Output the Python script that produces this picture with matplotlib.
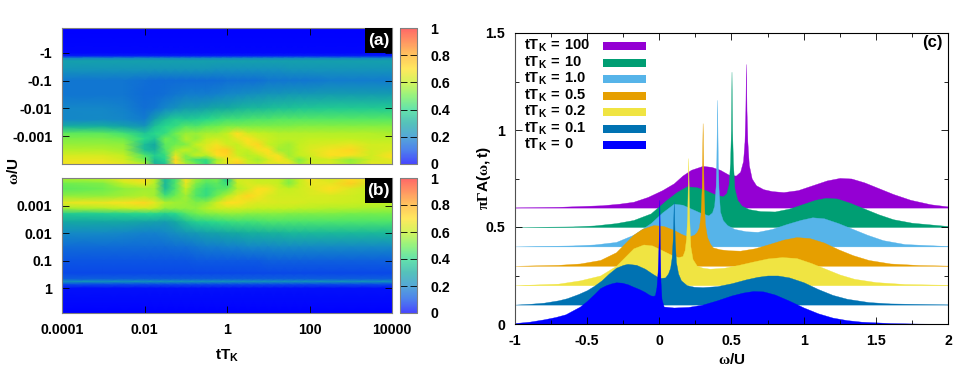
"""Spectral function after a quench: time/frequency maps and a waterfall of cuts."""

import matplotlib

matplotlib.use("Agg")
import matplotlib.pyplot as plt
from matplotlib.cm import ScalarMappable
from matplotlib.colors import LinearSegmentedColormap, Normalize
from matplotlib.patches import Rectangle
import numpy as np

plt.rcParams["font.family"] = ["Liberation Sans", "DejaVu Sans"]
plt.rcParams["font.weight"] = "bold"
plt.rcParams["mathtext.fontset"] = "custom"
plt.rcParams["mathtext.rm"] = "Liberation Serif"
plt.rcParams["mathtext.bf"] = "Liberation Sans:bold"
plt.rcParams["mathtext.it"] = "Liberation Sans:bold"

WIDTH, HEIGHT = 975, 367
FONT = 10.2

# log10(t T_K) of the map columns
log_t = [-4, -3, -2.5, -2, -1.75, -1.5, -1.25, -1, -0.75, -0.5, -0.25, 0,
         0.25, 0.5, 0.75, 1, 1.25, 1.5, 1.75, 2, 2.5, 3, 3.5, 4]

# log10|w/U| of the rows, map (a): negative frequencies
log_w_a = [0.9, 0, -0.12, -0.2, -0.3, -0.6, -1, -1.5, -2, -2.4, -2.65, -2.9,
           -3.1, -3.3, -3.5, -3.7, -3.85, -4]
map_a = [
    [0.00] * 24,
    [0.01] * 24,
    [0.04] * 24,
    [0.20] * 24,
    [0.27] * 24,
    [0.24, 0.24, 0.24, 0.24, 0.24, 0.24, 0.24, 0.24, 0.24, 0.24, 0.23, 0.23,
     0.23, 0.23, 0.23, 0.23, 0.23, 0.24, 0.24, 0.24, 0.24, 0.24, 0.24, 0.24],
    [0.17, 0.17, 0.17, 0.16, 0.15, 0.15, 0.15, 0.15, 0.15, 0.15, 0.15, 0.16,
     0.16, 0.16, 0.16, 0.17, 0.17, 0.17, 0.17, 0.17, 0.18, 0.18, 0.18, 0.18],
    [0.17, 0.17, 0.17, 0.15, 0.15, 0.16, 0.17, 0.18, 0.18, 0.18, 0.19, 0.20,
     0.21, 0.22, 0.23, 0.24, 0.24, 0.25, 0.25, 0.25, 0.26, 0.26, 0.26, 0.26],
    [0.20, 0.20, 0.19, 0.16, 0.17, 0.20, 0.23, 0.26, 0.26, 0.28, 0.30, 0.30,
     0.32, 0.33, 0.33, 0.34, 0.35, 0.35, 0.36, 0.36, 0.37, 0.37, 0.37, 0.37],
    [0.20, 0.21, 0.20, 0.18, 0.27, 0.34, 0.38, 0.37, 0.38, 0.40, 0.42, 0.44,
     0.44, 0.45, 0.46, 0.46, 0.47, 0.47, 0.47, 0.47, 0.47, 0.47, 0.47, 0.47],
    [0.31, 0.31, 0.28, 0.24, 0.35, 0.40, 0.42, 0.47, 0.46, 0.49, 0.50, 0.52,
     0.52, 0.52, 0.52, 0.52, 0.52, 0.52, 0.53, 0.53, 0.53, 0.53, 0.53, 0.53],
    [0.48, 0.48, 0.44, 0.36, 0.40, 0.42, 0.50, 0.55, 0.55, 0.57, 0.57, 0.60,
     0.70, 0.62, 0.60, 0.59, 0.58, 0.58, 0.58, 0.58, 0.58, 0.58, 0.58, 0.57],
    [0.52, 0.52, 0.50, 0.40, 0.36, 0.50, 0.48, 0.58, 0.54, 0.60, 0.62, 0.60,
     0.66, 0.70, 0.64, 0.61, 0.59, 0.59, 0.59, 0.60, 0.60, 0.60, 0.59, 0.59],
    [0.55, 0.55, 0.54, 0.34, 0.30, 0.48, 0.50, 0.52, 0.60, 0.64, 0.68, 0.62,
     0.60, 0.68, 0.72, 0.60, 0.58, 0.56, 0.60, 0.62, 0.64, 0.66, 0.62, 0.62],
    [0.58, 0.58, 0.56, 0.34, 0.32, 0.46, 0.56, 0.60, 0.56, 0.66, 0.72, 0.74,
     0.60, 0.60, 0.68, 0.70, 0.56, 0.56, 0.60, 0.64, 0.68, 0.72, 0.62, 0.64],
    [0.63, 0.63, 0.60, 0.46, 0.38, 0.42, 0.66, 0.52, 0.60, 0.58, 0.70, 0.72,
     0.62, 0.58, 0.60, 0.68, 0.68, 0.56, 0.60, 0.62, 0.70, 0.68, 0.62, 0.70],
    [0.66, 0.66, 0.62, 0.50, 0.34, 0.40, 0.72, 0.52, 0.44, 0.42, 0.56, 0.66,
     0.70, 0.60, 0.56, 0.62, 0.70, 0.62, 0.52, 0.60, 0.62, 0.54, 0.62, 0.66],
    [0.68, 0.68, 0.66, 0.58, 0.32, 0.36, 0.70, 0.58, 0.50, 0.40, 0.60, 0.66,
     0.74, 0.62, 0.60, 0.66, 0.64, 0.68, 0.56, 0.62, 0.64, 0.56, 0.66, 0.64],
]

# log10|w/U| of the rows, map (b): positive frequencies
log_w_b = [-4, -3.8, -3.6, -3.35, -3.1, -2.9, -2.7, -2.4, -2, -1.5, -1, -0.55,
           -0.33, -0.25, -0.15, 0, 0.9]
map_b = [
    [0.58, 0.60, 0.68, 0.72, 0.60, 0.34, 0.44, 0.68, 0.56, 0.50, 0.52, 0.36,
     0.64, 0.62, 0.60, 0.60, 0.60, 0.54, 0.60, 0.68, 0.62, 0.70, 0.66, 0.62],
    [0.50, 0.52, 0.60, 0.66, 0.58, 0.33, 0.46, 0.66, 0.52, 0.46, 0.48, 0.42,
     0.60, 0.64, 0.62, 0.62, 0.60, 0.52, 0.60, 0.66, 0.66, 0.74, 0.62, 0.60],
    [0.48, 0.50, 0.54, 0.56, 0.56, 0.34, 0.46, 0.60, 0.48, 0.42, 0.46, 0.48,
     0.58, 0.62, 0.70, 0.68, 0.62, 0.60, 0.62, 0.64, 0.70, 0.64, 0.60, 0.58],
    [0.54, 0.54, 0.56, 0.58, 0.56, 0.44, 0.50, 0.56, 0.46, 0.42, 0.50, 0.58,
     0.66, 0.72, 0.68, 0.64, 0.62, 0.62, 0.62, 0.63, 0.63, 0.62, 0.60, 0.60],
    [0.66, 0.67, 0.69, 0.72, 0.66, 0.58, 0.56, 0.55, 0.52, 0.54, 0.62, 0.70,
     0.70, 0.66, 0.64, 0.64, 0.63, 0.63, 0.63, 0.62, 0.62, 0.61, 0.60, 0.60],
    [0.56, 0.58, 0.60, 0.62, 0.60, 0.54, 0.54, 0.54, 0.54, 0.58, 0.61, 0.62,
     0.62, 0.61, 0.60, 0.60, 0.60, 0.60, 0.59, 0.59, 0.58, 0.58, 0.57, 0.56],
    [0.37, 0.38, 0.39, 0.40, 0.40, 0.38, 0.40, 0.46, 0.50, 0.52, 0.53, 0.54,
     0.54, 0.53, 0.53, 0.53, 0.53, 0.52, 0.52, 0.52, 0.52, 0.51, 0.51, 0.51],
    [0.29, 0.29, 0.29, 0.28, 0.27, 0.26, 0.29, 0.34, 0.38, 0.39, 0.41, 0.42,
     0.43, 0.43, 0.44, 0.45, 0.45, 0.45, 0.45, 0.45, 0.45, 0.45, 0.45, 0.45],
    [0.21, 0.21, 0.20, 0.19, 0.19, 0.20, 0.22, 0.24, 0.25, 0.27, 0.28, 0.29,
     0.30, 0.31, 0.31, 0.32, 0.32, 0.33, 0.33, 0.33, 0.33, 0.33, 0.33, 0.33],
    [0.15, 0.15, 0.15, 0.15, 0.15, 0.15, 0.16, 0.16, 0.17, 0.18, 0.18, 0.19,
     0.19, 0.20, 0.20, 0.20, 0.21, 0.21, 0.21, 0.21, 0.21, 0.21, 0.21, 0.21],
    [0.11, 0.11, 0.11, 0.11, 0.11, 0.11, 0.11, 0.11, 0.12, 0.12, 0.12, 0.12,
     0.12, 0.12, 0.12, 0.13, 0.13, 0.13, 0.13, 0.13, 0.13, 0.13, 0.13, 0.13],
    [0.09] * 24,
    [0.13] * 24,
    [0.24] * 24,
    [0.10] * 24,
    [0.02] * 24,
    [0.00] * 24,
]

# colour bar ticks
bar_ticks = [0, 0.2, 0.4, 0.6, 0.8, 1]
bar_labels = ["0", "0.2", "0.4", "0.6", "0.8", "1"]

# waterfall cuts, frequency relative to the spike and height above the baseline
time_labels = ["0", "0.1", "0.2", "0.5", "1.0", "10", "100"]
colors_c = ["#0000ff", "#0072b2", "#f0e442", "#e69f00", "#56b4e9", "#009e73", "#9400d3"]

w_0 = [-1.0, -0.9, -0.8, -0.72, -0.65, -0.6, -0.55, -0.5, -0.45, -0.41, -0.37, -0.33, -0.3,
       -0.26, -0.22, -0.18, -0.14, -0.1, -0.08, -0.06, -0.04, -0.03, -0.02, -0.012,
       -0.005, 0, 0.004, 0.008, 0.015, 0.03, 0.1, 0.2, 0.3, 0.4, 0.5, 0.58, 0.65,
       0.72, 0.8, 0.9, 1.0, 1.1, 1.2, 1.3, 1.4, 1.6, 1.8, 2.0]
a_0 = [0.005, 0.012, 0.024, 0.036, 0.05, 0.07, 0.09, 0.12, 0.155, 0.185, 0.2, 0.21, 0.215,
       0.213, 0.205, 0.192, 0.18, 0.165, 0.155, 0.147, 0.145, 0.15, 0.19, 0.27,
       0.42, 0.64, 0.40, 0.22, 0.13, 0.09, 0.085, 0.088, 0.1, 0.122, 0.147, 0.162, 0.17,
       0.168, 0.152, 0.12, 0.085, 0.055, 0.033, 0.02, 0.012, 0.005, 0.002, 0.001]

w_1 = [-1.1, -1.0, -0.9, -0.8, -0.74, -0.66, -0.6, -0.55, -0.5, -0.45, -0.4, -0.35, -0.32, -0.26,
       -0.2, -0.15, -0.1, -0.06, -0.04, -0.025, -0.015, -0.007, 0, 0.007, 0.015, 0.03,
       0.05, 0.09, 0.14, 0.2, 0.3, 0.4, 0.5, 0.58, 0.65, 0.72, 0.8, 0.9, 1.0, 1.1,
       1.2, 1.35, 1.5, 1.9]
a_1 = [0.0, 0.004, 0.01, 0.022, 0.033, 0.055, 0.075, 0.098, 0.125, 0.16, 0.19, 0.205, 0.21, 0.205,
       0.185, 0.16, 0.137, 0.14, 0.16, 0.19, 0.24, 0.34, 0.53, 0.33, 0.22, 0.16,
       0.125, 0.1, 0.092, 0.09, 0.095, 0.11, 0.13, 0.143, 0.15, 0.15, 0.14, 0.115, 0.08, 0.05,
       0.03, 0.013, 0.006, 0.001]

w_2 = [-1.2, -0.9, -0.75, -0.61, -0.5, -0.42, -0.38, -0.31, -0.25, -0.18,
       -0.12, -0.07, -0.04, -0.025, -0.015, -0.007, 0, 0.007, 0.015, 0.03, 0.06, 0.1,
       0.15, 0.25, 0.35, 0.45, 0.55, 0.65, 0.75, 0.85, 0.95, 1.05, 1.15, 1.3, 1.5, 1.8]
a_2 = [0.0, 0.008, 0.025, 0.05, 0.10, 0.16, 0.19, 0.21, 0.205, 0.18,
       0.158, 0.145, 0.15, 0.18, 0.24, 0.36, 0.655, 0.34, 0.2, 0.135, 0.1, 0.09,
       0.085, 0.09, 0.105, 0.122, 0.138, 0.145, 0.14, 0.115, 0.085, 0.055, 0.033, 0.016, 0.006, 0.002]

w_3 = [-1.3, -1.0, -0.85, -0.71, -0.6, -0.48, -0.42, -0.34, -0.27, -0.2,
       -0.15, -0.1, -0.06, -0.04, -0.025, -0.015, -0.007, 0, 0.007, 0.015, 0.03, 0.05,
       0.07, 0.12, 0.18, 0.26, 0.36, 0.46, 0.56, 0.65, 0.74, 0.84, 0.94, 1.04, 1.15, 1.3, 1.5, 1.7]
a_3 = [0.0, 0.005, 0.012, 0.03, 0.07, 0.16, 0.19, 0.21, 0.205, 0.185,
       0.165, 0.15, 0.16, 0.175, 0.2, 0.26, 0.4, 0.735, 0.38, 0.22, 0.15, 0.115,
       0.095, 0.085, 0.08, 0.078, 0.09, 0.112, 0.135, 0.148, 0.143, 0.12, 0.085, 0.055, 0.03, 0.012, 0.004, 0.001]

w_4 = [-1.4, -1.0, -0.85, -0.7, -0.58, -0.46, -0.38, -0.3, -0.24,
       -0.18, -0.12, -0.06, -0.035, -0.02, -0.01, -0.005, 0, 0.005, 0.01, 0.02, 0.04,
       0.07, 0.12, 0.2, 0.28, 0.38, 0.48, 0.58, 0.66, 0.74, 0.84, 0.94, 1.04, 1.15, 1.3, 1.6]
a_4 = [0.0, 0.005, 0.01, 0.023, 0.06, 0.12, 0.175, 0.22, 0.215,
       0.195, 0.175, 0.16, 0.175, 0.21, 0.31, 0.45, 0.755, 0.44, 0.3, 0.18, 0.135,
       0.11, 0.09, 0.078, 0.075, 0.09, 0.115, 0.137, 0.15, 0.145, 0.12, 0.09, 0.06, 0.032, 0.012, 0.002]

w_5 = [-1.5, -1.1, -0.95, -0.8, -0.68, -0.56, -0.45, -0.38, -0.31, -0.24,
       -0.18, -0.12, -0.06, -0.035, -0.02, -0.01, -0.004, 0, 0.004, 0.01, 0.02, 0.04,
       0.07, 0.12, 0.2, 0.3, 0.4, 0.5, 0.58, 0.65, 0.73, 0.82, 0.92, 1.02, 1.12, 1.25, 1.5]
a_5 = [0.0, 0.003, 0.008, 0.02, 0.036, 0.07, 0.14, 0.18, 0.21, 0.205,
       0.19, 0.17, 0.158, 0.175, 0.22, 0.33, 0.5, 0.8, 0.5, 0.33, 0.2, 0.14,
       0.11, 0.092, 0.082, 0.08, 0.095, 0.12, 0.14, 0.15, 0.147, 0.125, 0.095, 0.065, 0.04, 0.022, 0.005]

w_6 = [-1.6, -1.3, -1.0, -0.88, -0.78, -0.68, -0.58, -0.5, -0.44, -0.38, -0.3,
       -0.24, -0.18, -0.12, -0.07, -0.04, -0.02, -0.01, -0.004, 0, 0.004, 0.01, 0.02,
       0.04, 0.07, 0.12, 0.18, 0.26, 0.36, 0.46, 0.56, 0.65, 0.73, 0.82, 0.92, 1.02, 1.14, 1.28, 1.4]
a_6 = [0.001, 0.004, 0.012, 0.02, 0.03, 0.055, 0.09, 0.125, 0.165, 0.195, 0.215,
       0.21, 0.195, 0.17, 0.165, 0.185, 0.24, 0.34, 0.5, 0.74, 0.5, 0.34, 0.22,
       0.15, 0.115, 0.095, 0.085, 0.08, 0.09, 0.115, 0.14, 0.153, 0.15, 0.13, 0.1, 0.07, 0.04, 0.017, 0.006]

omega_cuts = [w_0, w_1, w_2, w_3, w_4, w_5, w_6]
spectra = [a_0, a_1, a_2, a_3, a_4, a_5, a_6]
shift = 0.1  # each later cut moves right and up by this much

heat = LinearSegmentedColormap.from_list("heat", [
    (0.0, "#0000ff"), (0.1, "#0a50e6"), (0.2, "#1487c8"), (0.3, "#14aaa0"),
    (0.4, "#28d88c"), (0.5, "#6cee50"), (0.6, "#c4f020"), (0.7, "#ffe020"),
    (0.8, "#ffb020"), (1.0, "#ff2d2d"),
])
norm = Normalize(0, 1)


def pixel_axes(fig, x0, y0, x1, y1):
    """Add axes from pixel edges counted from the top left corner."""
    return fig.add_axes([x0 / WIDTH, 1 - y1 / HEIGHT, (x1 - x0) / WIDTH, (y1 - y0) / HEIGHT])


def draw_map(ax, log_w, values, ylim, ticks, tick_labels, tag):
    t = 10.0 ** np.array(log_t)
    w = 10.0 ** np.array(log_w)
    ax.pcolormesh(t, w, np.array(values), cmap=heat, norm=norm, shading="gouraud", rasterized=True)
    ax.set_xscale("log")
    ax.set_yscale("log")
    ax.set_xlim(1e-4, 1e4)
    ax.set_ylim(*ylim)
    ax.set_xticks([1e-4, 1e-2, 1, 1e2, 1e4])
    ax.set_xticks([], minor=True)
    ax.set_yticks(ticks)
    ax.set_yticks([], minor=True)
    ax.set_yticklabels(tick_labels, fontsize=FONT)
    ax.tick_params(which="both", direction="in", top=True, right=True, length=5, width=0.6, pad=7)
    for spine in ax.spines.values():
        spine.set_color("#808080")
        spine.set_linewidth(0.8)
    # black tag box in the top right corner
    ax.add_patch(Rectangle((0.918, 0.816), 0.082, 0.184, transform=ax.transAxes,
                           facecolor="black", edgecolor="none", zorder=5))
    ax.text(0.959, 0.905, tag, transform=ax.transAxes, color="white", fontsize=12.5,
            ha="center", va="center", zorder=6)


def draw_bar(fig, y0, y1):
    cax = pixel_axes(fig, 400, y0, 417, y1)
    bar = fig.colorbar(ScalarMappable(norm=norm, cmap=heat), cax=cax, alpha=0.72)
    bar.set_ticks(bar_ticks)
    bar.set_ticklabels(bar_labels, fontsize=FONT)
    cax.tick_params(direction="in", left=True, right=True, length=5, width=0.6, pad=9.4)
    bar.outline.set_edgecolor("#808080")
    bar.outline.set_linewidth(0.8)


fig = plt.figure(figsize=(WIDTH / 100, HEIGHT / 100), dpi=100)

ax_a = pixel_axes(fig, 62, 28, 392, 164)
draw_map(ax_a, log_w_a, map_a, (1e-4, 10 ** 0.89), [1, 0.1, 0.01, 0.001],
         ["-1", "-0.1", "-0.01", "-0.001"], "(a)")
ax_a.tick_params(labelbottom=False)
draw_bar(fig, 28, 164)

ax_b = pixel_axes(fig, 62, 178, 392, 313)
draw_map(ax_b, log_w_b, map_b, (10 ** 0.89, 1e-4), [0.001, 0.01, 0.1, 1],
         ["0.001", "0.01", "0.1", "1"], "(b)")
ax_b.set_xticklabels(["0.0001", "0.01", "1", "100", "10000"], fontsize=FONT)
draw_bar(fig, 178, 313)

fig.text(227 / WIDTH, 1 - 356 / HEIGHT, r"$\mathbf{tT_K}$", fontsize=11, ha="center", va="center")
fig.text(13 / WIDTH, 1 - 171 / HEIGHT, r"$\mathrm{ω}\mathbf{/U}$", fontsize=11, rotation=90, ha="center", va="center")

# waterfall, drawn back to front so the earlier times sit on top
ax_c = pixel_axes(fig, 515, 33, 948, 324)
for i in range(len(spectra) - 1, -1, -1):
    x = np.array(omega_cuts[i]) + i * shift
    base = i * shift
    y = np.array(spectra[i]) + base
    # hold the baseline out to the right hand edge
    x = np.append(x, 2.2)
    y = np.append(y, base)
    ax_c.fill_between(x, base, y, color=colors_c[i], linewidth=0.25)

ax_c.set_xlim(-1, 2)
ax_c.set_ylim(0, 1.5)
ax_c.set_xticks([-1, -0.5, 0, 0.5, 1, 1.5, 2])
ax_c.set_xticklabels(["-1", "-0.5", "0", "0.5", "1", "1.5", "2"], fontsize=FONT)
ax_c.set_yticks([0, 0.5, 1, 1.5])
ax_c.set_yticklabels(["0", "0.5", "1", "1.5"], fontsize=FONT)
ax_c.set_xticks(np.arange(-1, 2.01, 0.25), minor=True)
ax_c.set_yticks(np.arange(0, 1.51, 0.25), minor=True)
ax_c.tick_params(which="major", direction="in", top=True, right=True, length=5, width=0.6, pad=7)
ax_c.tick_params(which="minor", direction="in", top=True, right=True, length=3, width=0.6)
for spine in ax_c.spines.values():
    spine.set_linewidth(0.8)
ax_c.spines["left"].set_color("#505050")
ax_c.text(0.963, 0.967, "(c)", transform=ax_c.transAxes, fontsize=12, ha="center", va="center")

# key, latest time at the top
for row, i in enumerate(range(len(time_labels) - 1, -1, -1)):
    y_key = 0.955 - row * 0.0567
    ax_c.text(0.0205, y_key, rf"$\mathbf{{tT_K\,=\,{time_labels[i]}}}$", transform=ax_c.transAxes,
              fontsize=10.6, ha="left", va="center")
    ax_c.add_patch(Rectangle((0.2035, y_key - 0.014), 0.0995, 0.028, transform=ax_c.transAxes,
                             facecolor=colors_c[i], edgecolor="none"))

fig.text(732 / WIDTH, 1 - 360 / HEIGHT, r"$\mathrm{ω}\mathbf{/U}$", fontsize=11, ha="center", va="center")
fig.text(484 / WIDTH, 1 - 178 / HEIGHT, r"$\mathrm{πΓ}\mathbf{A(}\mathrm{ω}\mathbf{,t)}$", fontsize=11,
         rotation=90, ha="center", va="center")

fig.savefig("out.png", dpi=100)
plt.close(fig)
